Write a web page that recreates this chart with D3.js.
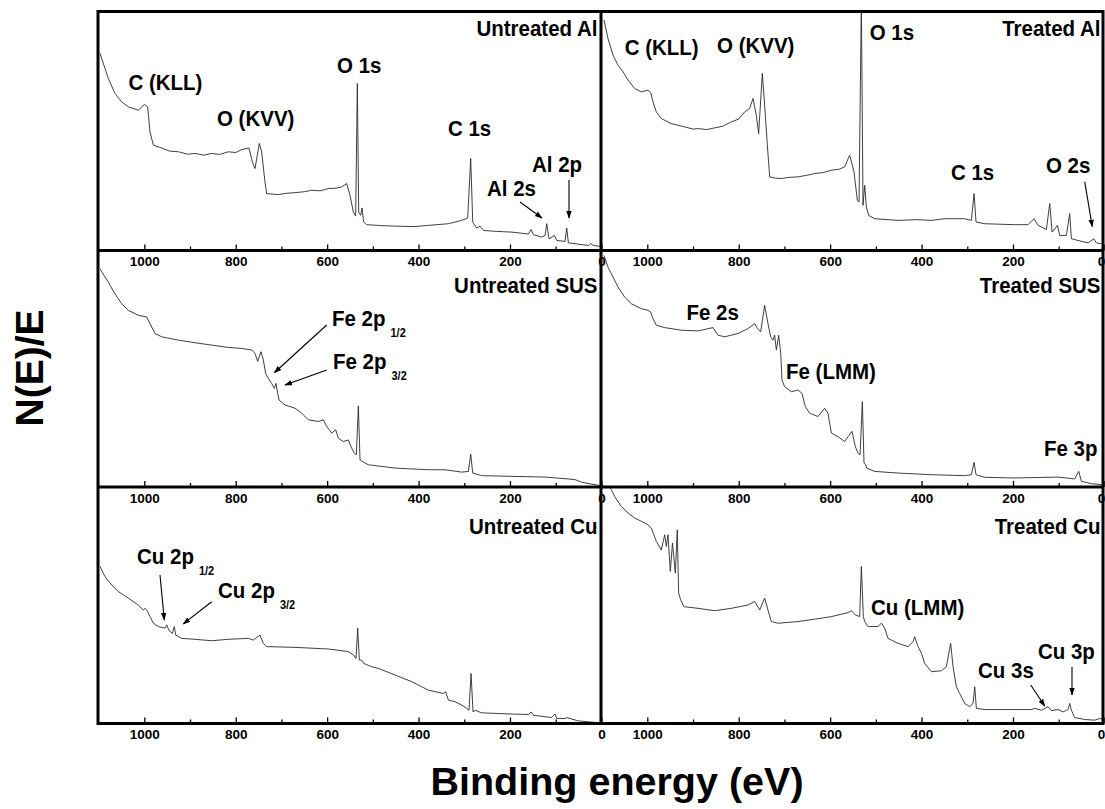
<!DOCTYPE html>
<html><head><meta charset="utf-8">
<script src="https://cdn.jsdelivr.net/npm/d3@7"></script>
<style>body{margin:0;background:#fff}text{font-family:"Liberation Sans",Arial,sans-serif;font-weight:bold;fill:#000}</style>
</head><body><svg id="c" width="1105" height="809"></svg>
<script>
// ---- data (binding energy eV, N(E)/E in % of panel full scale) ----
const xMajorTicks = [1000, 800, 600, 400, 200, 0];
const xMinorTicks = [900, 700, 500, 300, 100];
const panelTitles = ["Untreated Al", "Treated Al", "Untreated SUS", "Treated SUS", "Untreated Cu", "Treated Cu"];
const xLabel = "Binding energy (eV)";
const yLabel = "N(E)/E";

const untreatedAl = [[1097,82.5],[1078.8,72.0],[1064.2,65.7],[1049.6,62.2],[1035,60.1],[1013.1,58.7],[1000,61.1],[992.7,60.1],[987.6,49.7],[980.3,44.1],[962,42.9],[945,41.6],[925.6,41.3],[905,40.3],[889.1,40.6],[870,39.9],[852.7,40.6],[835,40.2],[816.2,41.3],[800,41.0],[787,42.2],[771,42.9],[763.7,37.1],[757.8,34.3],[748.4,44.8],[743.3,41.3],[736,28.7],[732.3,23.8],[706.8,23.4],[690,23.9],[670.3,24.2],[650,24.6],[633.8,25.2],[615,25.0],[597.4,25.9],[580,26.1],[568.2,26.6],[557.3,28],[550,23.1],[542.7,16.1],[537.6,14.4],[533.9,69.9],[531,16.1],[526.6,14.7],[523.7,17.8],[520,11.9],[513.5,10.8],[480,10.4],[451.5,10.2],[410,10.0],[378.6,10.5],[334.8,11.2],[305.6,12.6],[292.5,13.6],[285.9,38.5],[281.5,11.9],[272.8,9.4],[265.5,10.2],[258.2,8.4],[230,8.0],[196.2,7.7],[159.7,6.9],[153.9,8.8],[148.8,6.6],[130.6,5.6],[123.3,6.3],[119.6,11.2],[114.5,4.9],[102.8,6.3],[97.7,4.2],[79.5,3.8],[75.9,9.4],[72.2,3.2],[28.4,2.1],[23.3,2.9],[17.5,2.1],[2.9,1.7]];

const treatedAl = [[1094.8,96.5],[1086.1,88.8],[1075.1,81.8],[1064.2,77.6],[1053.2,74.8],[1042.3,71.3],[1027.7,67.8],[1013.1,66.4],[998.5,67.1],[992.7,66.2],[987.6,62.2],[980.3,58.0],[969.4,55.2],[947.5,53.1],[918.3,51.7],[900,50.8],[889.1,51.0],[870,50.6],[852.7,51.3],[835,52.0],[816.2,53.8],[800,55.0],[787,58.0],[776.1,59.4],[768.8,63.6],[761.5,56.6],[756.4,48.9],[748.4,74.1],[743.3,60.8],[737.4,44.1],[732.3,30.8],[720,30.3],[706.8,30.1],[690,30.6],[670.3,30.8],[650,31.5],[633.8,32.2],[615,32.6],[597.4,33.6],[580,34.0],[568.2,35.0],[557.3,39.9],[547.8,32.9],[540.5,21.0],[536.8,20.3],[531.7,105],[528.1,18.9],[524.4,27.3],[520.8,18.2],[515.7,14.7],[502.6,13.3],[451.5,12.6],[410,12.9],[378.6,12.6],[349.4,13.3],[305.6,13.3],[291,12.6],[285.2,23.8],[280.8,11.9],[261.9,11.2],[196.2,10.8],[167,10.8],[153.9,13.3],[145.2,10.5],[126.9,8.8],[119.6,19.6],[114.5,7.7],[102.8,10.5],[97.7,6.3],[83.2,6.3],[75.9,15.4],[72.2,4.9],[57.6,4.2],[35.7,3.2],[23.3,4.9],[17.5,3.2],[6.6,2.8]];

const untreatedSUS = [[1097,92.3],[1086.1,88.8],[1078,86.5],[1075.1,85.3],[1064.2,81.7],[1049.6,77.5],[1035,74.7],[1013.1,72.6],[994.9,71.9],[987.6,69.1],[976.6,64.9],[962,63.5],[925.6,62.1],[889.1,61.0],[852.7,60.0],[816.2,59.0],[787,58.6],[765.1,57.9],[757.8,56.5],[752,53.1],[744.7,57.2],[739.6,53.7],[734.5,48.0],[728.7,45.9],[721.4,43.8],[715.5,41.7],[711.9,43.8],[708.2,39.6],[705.3,36.8],[692.2,34.7],[670.3,33.3],[655.7,31.2],[641.1,28.4],[619.3,27.7],[608.3,28.4],[601,25.6],[590.1,22.8],[581.3,24.2],[575.5,20.6],[564.6,19.2],[553.6,19.9],[546.3,16.4],[540.5,14.3],[536.1,13.6],[531.7,34.3],[528.1,11.5],[523,10.8],[509.8,9.4],[451.5,8.0],[378.6,7.3],[342.1,7.3],[305.6,6.3],[291,6.6],[285.9,13.9],[281.5,5.9],[261.9,4.8],[196.2,4.5],[123.3,4.2],[72.2,3.4],[57.6,3.1],[43,2.0],[2.9,0.6]];

const treatedSUS = [[1094.8,97.9],[1086.1,93.0],[1075.1,88.8],[1064.2,84.6],[1049.6,80.3],[1035,77.5],[1013.1,75.4],[998.5,74.7],[992.7,74.0],[987.6,71.2],[980.3,68.4],[962,67.4],[925.6,66.3],[889.1,66.0],[856.3,67.4],[845.4,64.2],[830.8,63.5],[801.6,64.9],[779.7,67.0],[765.1,69.1],[759.3,67.0],[752,65.6],[743.3,76.8],[736,69.1],[730.1,63.5],[725,62.1],[721.4,64.2],[717.7,57.9],[712.6,64.2],[708.2,56.5],[705.3,45.2],[699.5,42.4],[684.9,40.3],[670.3,41.0],[661.6,39.6],[654.3,34.0],[644.8,31.2],[626.6,29.8],[612,33.3],[604.7,31.2],[597.4,22.8],[582.8,21.3],[568.2,19.2],[560.9,21.3],[552.2,23.5],[544.9,17.1],[539,14.3],[534.6,13.6],[529.5,36.1],[525.9,10.1],[522.2,9.4],[520,8.0],[502.6,6.6],[451.5,5.9],[378.6,5.2],[305.6,4.8],[291,5.2],[285.2,10.4],[280.8,5.2],[261.9,4.1],[196.2,3.8],[101.4,4.2],[64.9,3.4],[56.2,6.6],[50.3,2.4],[28.4,1.4],[6.6,1.0]];

const untreatedCu = [[1097,66.4],[1086.1,62.1],[1071.5,58.6],[1056.9,55.8],[1035,53.0],[1013.1,50.1],[1002.2,48.0],[998.5,48.7],[992.7,47.3],[987.6,45.2],[980.3,42.4],[969.4,41.0],[954.8,40.3],[951.1,41.7],[946,39.3],[938.7,38.1],[934.4,41.0],[931.4,37.4],[918.3,36.0],[889.1,35.6],[852.7,35.0],[816.2,35.6],[772.4,36.0],[761.5,35.3],[746.9,37.4],[739.6,33.9],[732.3,32.5],[670.3,32.2],[597.4,31.5],[553.6,30.4],[542.7,29.0],[536.8,27.5],[533.2,40.3],[529.5,26.8],[524.4,26.8],[520,25.4],[502.6,24.0],[488,23.3],[451.5,20.5],[415,17.7],[378.6,14.1],[345.7,12.7],[340.6,13.4],[334.8,9.9],[320.2,9.2],[305.6,7.8],[294.7,6.4],[289.6,5.6],[285.2,21.2],[280.8,4.9],[276.4,5.6],[261.9,4.5],[196.2,4.0],[159.7,3.8],[153.9,4.9],[148.8,3.5],[108.7,2.5],[101.4,4.0],[97.7,2.1],[79.5,2.1],[75.9,2.5],[50.3,1.1],[6.6,0.3]];

const treatedCu = [[1095,103],[1078.8,98.9],[1071.5,96.0],[1056.9,91.8],[1042.3,89.0],[1027.7,86.9],[1013.1,85.5],[998.5,84.0],[991.2,82.6],[980.3,77.0],[969.4,73.4],[962,79.8],[958.4,74.9],[954.8,79.8],[949.7,64.3],[944.9,76.3],[938.7,63.6],[934.4,81.9],[931.4,55.1],[927,52.3],[919.8,49.4],[889.1,48.7],[852.7,47.7],[816.2,48.7],[779.7,50.1],[765.1,51.6],[754.2,48.0],[743.3,53.0],[736,48.0],[728.7,43.1],[714.1,42.4],[670.3,43.1],[633.8,44.1],[597.4,45.2],[560.9,46.9],[553.6,47.7],[544.9,45.9],[535.4,45.2],[531.7,66.4],[527.4,45.2],[524.4,43.1],[517.1,41.0],[495.3,41.0],[488,42.4],[480.7,40.3],[473.4,36.0],[451.5,33.9],[429.6,32.5],[418.7,34.6],[415,36.7],[407.7,32.5],[400.4,29.7],[393.1,25.4],[378.6,21.9],[356.7,22.3],[345.7,24.0],[336.3,33.9],[331.1,24.0],[323.9,15.5],[316.6,12.7],[305.6,8.5],[294.7,7.1],[287.4,8.5],[283.7,15.5],[280.1,6.4],[261.9,5.9],[196.2,5.9],[159.7,5.9],[152.4,6.4],[137.9,5.6],[123.3,7.1],[116,5.4],[101.4,5.9],[90.4,4.9],[79.5,5.9],[75.9,8.5],[72.2,5.6],[64.9,2.5],[43,1.7],[21.2,1.4],[10.2,2.1],[2.9,1.7]];

const spectra = [untreatedAl, treatedAl, untreatedSUS, treatedSUS, untreatedCu, treatedCu];

// peak annotations (anchored in data units: eV, intensity)
const peakLabels = [
  [[1034.6,67.2,"C (KLL)"],[841,52.1,"O (KVV)"],[578.4,74.3,"O 1s"],[335.6,47.9,"C 1s"],[250.3,22.8,"Al 2s"],[151.8,32.8,"Al 2p"]],
  [[1049.4,81.8,"C (KLL)"],[847.5,82.6,"O (KVV)"],[513.5,88.1,"O 1s"],[335.6,29.5,"C 1s"],[127.8,32.4,"O 2s"]],
  [[589.4,68.1,"Fe 2p","1/2"],[587.2,49.9,"Fe 2p","3/2"]],
  [[914.5,70.6,"Fe 2s"],[696.6,45.7,"Fe (LMM)"],[132.1,13.1,"Fe 3p"]],
  [[1016,67.4,"Cu 2p","1/2"],[838.8,53.1,"Cu 2p","3/2"]],
  [[510.6,45.9,"Cu (LMM)"],[276.5,19.2,"Cu 3s"],[145.3,27.3,"Cu 3p"]]
];
const peakArrows = [
  [[178.1,20.3,130,13.6],[70.9,29.5,70.9,13.6]],
  [[43.1,28.8,26.5,10.0]],
  [[601,68.5,715.6,48.3],[601,49.5,692.2,43.1]],
  [],
  [[965.7,62.8,956.3,43.8],[852.5,51.5,914.7,42.1]],
  [[161.2,16.3,130.6,7.4],[70.9,24.0,70.9,12.1]]
];

// ---- layout ----
const svg = d3.select("#c");
const colRanges = [[98.6, 601.4], [601.6, 1104.4]];
const rowRanges = [[250.5, 11.5], [487, 250.5], [723.5, 487]];
const frame = {x0: 98, x1: 1103, y0: 11.5, y1: 723.5, xm: 601};
const stretch = 1.1;

const defs = svg.append("defs");
defs.append("marker").attr("id","ah").attr("viewBox","0 0 10 10").attr("refX",9).attr("refY",5)
  .attr("markerWidth",7).attr("markerHeight",7).attr("orient","auto-start-reverse")
  .append("path").attr("d","M0,1.5 L10,5 L0,8.5 Z").attr("fill","#000");

function addText(g, x, y, str, size, anchor, sub) {
  const t = g.append("text").attr("transform", `translate(${x},${y}) scale(1,${stretch})`)
    .attr("font-size", size).attr("text-anchor", anchor || "start").text(str);
  if (sub) t.append("tspan").attr("font-size", 11).attr("dx", 5).attr("dy", 10).text(sub);
  return t;
}

spectra.forEach((data, i) => {
  const col = i % 2, row = Math.floor(i / 2);
  const x = d3.scaleLinear().domain([1100, 0]).range(colRanges[col]);
  const y = d3.scaleLinear().domain([0, 100]).range(rowRanges[row]);
  const g = svg.append("g");
  const cid = "clip" + i;
  defs.append("clipPath").attr("id", cid).append("rect")
    .attr("x", colRanges[col][0]).attr("y", rowRanges[row][1])
    .attr("width", colRanges[col][1] - colRanges[col][0]).attr("height", rowRanges[row][0] - rowRanges[row][1]);

  const line = d3.line().x(d => x(d[0])).y(d => y(d[1]));
  g.append("path").datum(data).attr("clip-path", `url(#${cid})`)
    .attr("d", line).attr("fill", "none").attr("stroke", "#2a2a2a").attr("stroke-width", 0.9)
    .attr("stroke-linejoin", "round");

  const yb = rowRanges[row][0];
  const tMaj = g.append("g").attr("transform", `translate(0,${yb})`)
    .call(d3.axisTop(x).tickValues(xMajorTicks).tickSize(6).tickFormat(""));
  const tMin = g.append("g").attr("transform", `translate(0,${yb})`)
    .call(d3.axisTop(x).tickValues(xMinorTicks).tickSize(4).tickFormat(""));
  [tMaj, tMin].forEach(a => { a.select(".domain").remove(); a.selectAll("line").attr("stroke", "#000").attr("stroke-width", 1.3); });
  const lab = g.append("g").attr("transform", `translate(0,${yb})`)
    .call(d3.axisBottom(x).tickValues(xMajorTicks).tickSize(0).tickPadding(6).tickFormat(d3.format("d")));
  lab.select(".domain").remove();
  lab.selectAll("text").attr("font-size", 13.5).attr("font-family", '"Liberation Sans",Arial,sans-serif')
    .attr("font-weight", "bold").attr("fill", "#000");
  if (col === 1) lab.selectAll(".tick").filter(d => d === 0).select("text").attr("dx", -3.5);

  // title
  addText(g, x(8.5), y(row === 0 ? 89.8 : row === 1 ? 82.2 : 80.2), panelTitles[i], 20.5, "end");
  // peak labels
  peakLabels[i].forEach(p => addText(g, x(p[0]), y(p[1]), p[2], 20.5, "start", p[3]));
  peakArrows[i].forEach(a => g.append("line")
    .attr("x1", x(a[0])).attr("y1", y(a[1])).attr("x2", x(a[2])).attr("y2", y(a[3]))
    .attr("stroke", "#000").attr("stroke-width", 1.1).attr("marker-end", "url(#ah)"));
});

// frames
const fr = svg.append("g").attr("stroke", "#000").attr("stroke-width", 3).attr("fill", "none");
fr.append("rect").attr("x", frame.x0).attr("y", frame.y0).attr("width", frame.x1 - frame.x0).attr("height", frame.y1 - frame.y0);
rowRanges.slice(0, 2).forEach(r => fr.append("line").attr("x1", frame.x0).attr("x2", frame.x1).attr("y1", r[0]).attr("y2", r[0]));
fr.append("line").attr("x1", frame.xm).attr("x2", frame.xm).attr("y1", frame.y0).attr("y2", frame.y1);

// axis titles
svg.append("text").attr("x", 617).attr("y", 795).attr("text-anchor", "middle").attr("font-size", 39.5).text(xLabel);
svg.append("text").attr("transform", "translate(43,368) rotate(-90)").attr("text-anchor", "middle").attr("font-size", 39).text(yLabel);
</script></body></html>
